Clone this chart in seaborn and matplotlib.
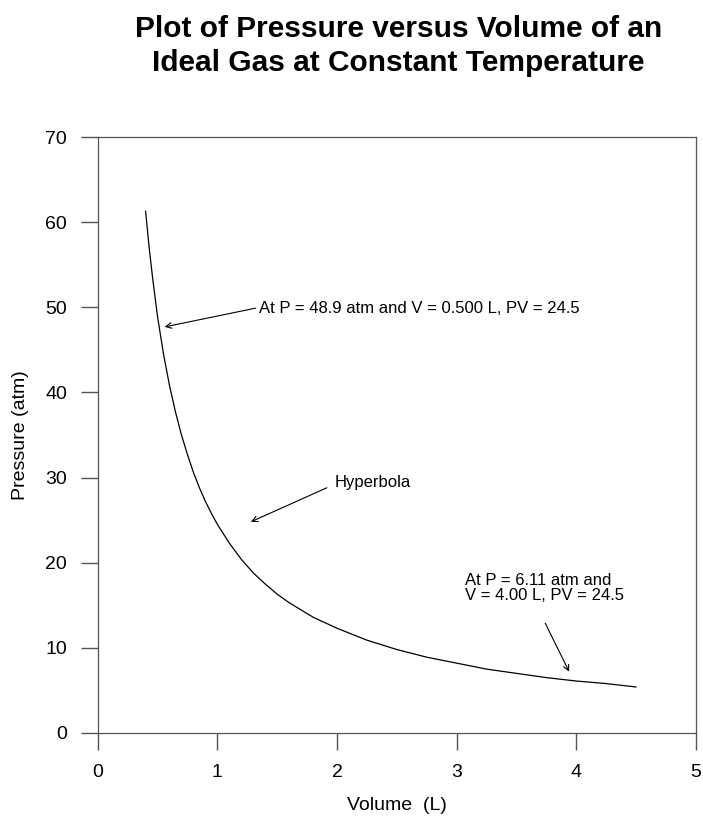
import pandas as pd
import seaborn as sns
import matplotlib.pyplot as plt

# Values
volume = [0.40, 0.43, 0.46, 0.50, 0.55, 0.60, 0.65, 0.70, 0.75, 0.80, 0.85,
          0.90, 0.95, 1.00, 1.10, 1.20, 1.30, 1.40, 1.50, 1.60, 1.80, 2.00,
          2.25, 2.50, 2.75, 3.00, 3.25, 3.50, 3.75, 4.00, 4.25, 4.50]
pressure = [61.3, 57.0, 53.3, 48.9, 44.5, 40.8, 37.7, 35.0, 32.7, 30.6, 28.8,
            27.2, 25.8, 24.5, 22.3, 20.4, 18.8, 17.5, 16.3, 15.3, 13.6, 12.3,
            10.9, 9.8, 8.9, 8.2, 7.5, 7.0, 6.5, 6.1, 5.8, 5.4]

x_ticks = [0, 1, 2, 3, 4, 5]
y_ticks = [0, 10, 20, 30, 40, 50, 60, 70]

df = pd.DataFrame({'Volume': volume, 'Pressure': pressure})

sns.set_style('white')
plt.rcParams['font.family'] = ['Liberation Sans', 'DejaVu Sans']
plt.rcParams['text.color'] = 'black'

fig = plt.figure(figsize=(7.03, 8.23), dpi=100)
ax = fig.add_axes([0.139, 0.1094, 0.851, 0.7241])

sns.lineplot(data=df, x='Volume', y='Pressure', ax=ax, color='black', linewidth=0.9)

ax.set_xlim(0, 5)
ax.set_ylim(0, 70)
ax.set_xticks(x_ticks)
ax.set_yticks(y_ticks)
ax.tick_params(axis='both', direction='out', length=12, width=1, color='#555555',
               labelcolor='black', labelsize=14, pad=10, left=True, bottom=True)
for s in ax.spines.values():
    s.set_color('#555555')
    s.set_linewidth(0.9)

ax.set_xlabel('Volume  (L)', fontsize=14, labelpad=12, color='black')
ax.set_ylabel('Pressure (atm)', fontsize=14, labelpad=12, color='black')

fig.text(0.567, 0.944, 'Plot of Pressure versus Volume of an\nIdeal Gas at Constant Temperature',
         ha='center', va='center', fontsize=21.5, fontweight='bold', linespacing=1.25)

arrow = dict(arrowstyle='->', color='black', lw=0.8, shrinkA=0, shrinkB=0)

ax.text(1.35, 49.9, 'At P = 48.9 atm and V = 0.500 L, PV = 24.5', fontsize=12,
        va='center', ha='left')
ax.annotate('', xy=(0.56, 47.7), xytext=(1.32, 49.9), arrowprops=arrow)

ax.text(1.98, 29.4, 'Hyperbola', fontsize=12, va='center', ha='left')
ax.annotate('', xy=(1.28, 24.8), xytext=(1.915, 28.8), arrowprops=arrow)

ax.text(3.07, 17.0, 'At P = 6.11 atm and\nV = 4.00 L, PV = 24.5', fontsize=12,
        va='center', ha='left', linespacing=1.0)
ax.annotate('', xy=(3.94, 7.2), xytext=(3.74, 12.9), arrowprops=arrow)

fig.savefig('out.png', dpi=100)
